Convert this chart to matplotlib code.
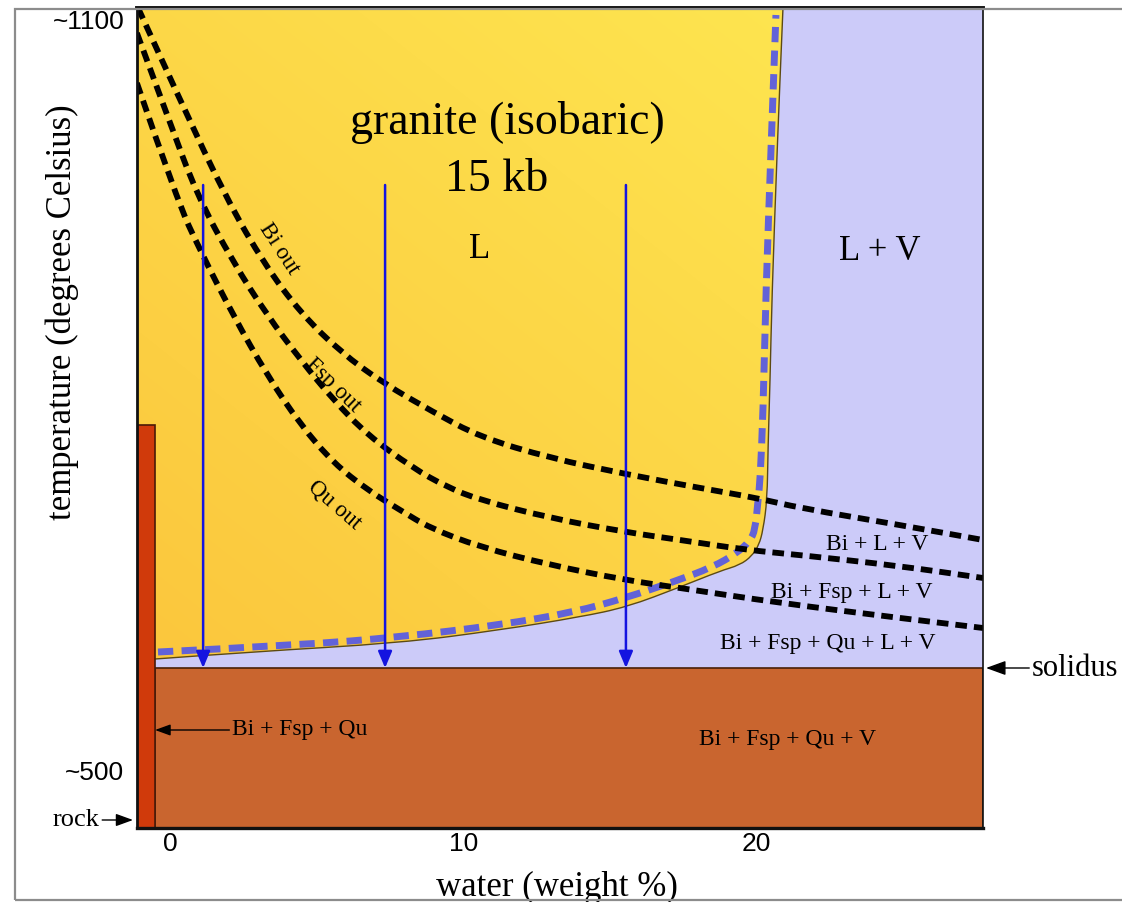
import numpy as np
import matplotlib.pyplot as plt
from matplotlib.patches import Rectangle, Polygon, PathPatch
from matplotlib.path import Path
from matplotlib.colors import to_rgb

plt.rcParams['font.family'] = ['Liberation Serif', 'DejaVu Serif']

# axis ranges (water weight %, temperature in C)
water_lim = (-1.137, 27.737)
temp_lim = (453.6, 1109.6)
solidus_T = 581.6
rock_edge = -0.522
rock_top = 776.0

# liquidus boundary of the L field
liq_w = [-0.52, 2.72, 7.84, 11.25, 13.98, 15.59, 17.40, 18.76, 19.44, 19.85,
         20.09, 20.23, 20.37, 20.40, 20.47, 20.53, 20.71, 20.91]
liq_T = [588.8, 594.4, 601.6, 612.0, 622.4, 630.4, 646.4, 659.2, 664.0, 671.2,
         680.0, 692.0, 716.0, 758.4, 812.0, 876.0, 996.0, 1109.6]

# blue dashed path
path_w = [-0.42, 4.45, 7.84, 11.25, 13.81, 15.52, 17.16, 18.52, 19.34, 19.78,
          19.96, 20.06, 20.13, 20.23, 20.33, 20.50, 20.67]
path_T = [594.4, 600.0, 606.4, 616.0, 626.4, 637.6, 650.4, 662.4, 673.6, 683.2,
          692.0, 716.0, 732.0, 785.6, 884.0, 996.0, 1104.0]

bi_w = [-1.10, 0.33, 1.94, 3.23, 4.45, 5.81, 7.26, 8.97, 10.57, 12.96, 15.52,
        18.08, 20.02, 21.49, 24.90, 27.74]
bi_T = [1109.6, 1036.0, 956.0, 904.0, 865.6, 834.4, 809.6, 786.4, 766.4, 749.6,
        736.8, 725.6, 717.6, 709.6, 696.0, 684.0]

fsp_w = [-1.14, -0.11, 0.91, 2.14, 3.30, 4.45, 5.57, 6.73, 8.28, 9.44, 10.57,
         12.96, 15.52, 17.40, 19.68, 21.49, 24.90, 27.74]
fsp_T = [1089.6, 1024.0, 960.0, 906.4, 864.0, 828.0, 796.0, 768.0, 741.6, 726.4,
         716.0, 701.6, 690.4, 684.0, 676.0, 672.0, 663.2, 653.6]

qu_w = [-1.14, 0.23, 1.01, 2.14, 3.30, 4.45, 5.57, 6.73, 7.84, 8.86, 10.57,
        12.96, 15.52, 17.40, 20.81, 24.90, 27.74]
qu_T = [1049.6, 956.0, 916.0, 864.0, 816.0, 776.0, 745.6, 724.0, 708.0, 693.6,
        678.4, 664.0, 652.0, 645.6, 633.6, 621.6, 613.6]

# cooling paths (vertical arrows)
arrow_w = [1.12, 7.33, 15.55]
arrow_top = 968.0


def smooth(w, T):
    # quadratic bezier through midpoints, read points act as control points
    p = np.column_stack([w, T])
    verts = [p[0]]
    codes = [Path.MOVETO]
    for i in range(1, len(p) - 1):
        verts += [p[i], (p[i] + p[i + 1]) / 2]
        codes += [Path.CURVE3, Path.CURVE3]
    verts.append(p[-1])
    codes.append(Path.LINETO)
    return Path(verts, codes)


fig = plt.figure(figsize=(11.22, 9.02), dpi=100)
ax = fig.add_axes([137/1122, 1-828/902, (983-137)/1122, (828-8)/902])
ax.set_xlim(*water_lim)
ax.set_ylim(*temp_lim)

# outer frame
fig.patches.append(Rectangle((15/1122, 2/902), 1.0, 891/902, transform=fig.transFigure,
                             fill=False, edgecolor='#8c8c8c', lw=1.6))

# fields
ax.add_patch(Rectangle((rock_edge, solidus_T), water_lim[1]-rock_edge, temp_lim[1]-solidus_T,
                       facecolor='#cccbf9', edgecolor='none', zorder=1))

liq_path = smooth(liq_w, liq_T)
liq_pts = liq_path.to_polygons(closed_only=False)[0]
yel = np.vstack([[water_lim[0], temp_lim[1]], liq_pts[::-1],
                 [liq_w[0], liq_T[0]], [water_lim[0], liq_T[0]]])
yel_patch = Polygon(yel, closed=True, facecolor='none', edgecolor='none', transform=ax.transData)
ax.add_patch(yel_patch)
gx, gy = np.meshgrid(np.linspace(0, 1, 200), np.linspace(0, 1, 200))
t = np.clip((gx*0.9 + gy*1.1)/2.0, 0, 1)[..., None]
c0 = np.array(to_rgb('#fbc23a'))
c1 = np.array(to_rgb('#fee952'))
grad = c0*(1-t) + c1*t
im = ax.imshow(grad, extent=[water_lim[0], water_lim[1], temp_lim[0], temp_lim[1]],
               origin='lower', aspect='auto', zorder=2, interpolation='bilinear')
im.set_clip_path(yel_patch)
ax.add_patch(PathPatch(liq_path, facecolor='none', edgecolor='#5c4a12', lw=1.0, zorder=3))

ax.add_patch(Rectangle((rock_edge, temp_lim[0]), water_lim[1]-rock_edge, solidus_T-temp_lim[0],
                       facecolor='#c9652f', edgecolor='#4a2008', lw=1.2, zorder=3))
ax.add_patch(Rectangle((water_lim[0], temp_lim[0]), rock_edge-water_lim[0], rock_top-temp_lim[0],
                       facecolor='#d03a0b', edgecolor='#4a1a08', lw=1.2, zorder=3))

# boundaries
ax.add_patch(PathPatch(smooth(path_w, path_T), facecolor='none', edgecolor='#6262d8',
                       lw=5.0, linestyle=(0, (2.2, 1.2)), capstyle='butt', zorder=4))
for w, T in [(bi_w, bi_T), (fsp_w, fsp_T), (qu_w, qu_T)]:
    ax.add_patch(PathPatch(smooth(w, T), facecolor='none', edgecolor='black',
                           lw=4.2, linestyle=(0, (2.0, 1.2)), capstyle='butt', zorder=5))

for w in arrow_w:
    ax.annotate('', xy=(w, solidus_T), xytext=(w, arrow_top), zorder=6,
                arrowprops=dict(arrowstyle='-|>,head_width=0.42,head_length=1.0',
                                color='#1414e0', lw=1.8, shrinkA=0, shrinkB=0))

# labels
ax.text(11.49, 1018, 'granite (isobaric)', fontsize=33, ha='center', va='center', zorder=7)
ax.text(11.15, 972, '15 kb', fontsize=33, ha='center', va='center', zorder=7)
ax.text(10.56, 916, 'L', fontsize=25, ha='center', va='center', zorder=7)
ax.text(24.22, 915, 'L + V', fontsize=25, ha='center', va='center', zorder=7)
ax.text(3.72, 917, 'Bi out', fontsize=16.5, rotation=-57, ha='center', va='center',
        rotation_mode='anchor', zorder=7)
ax.text(5.55, 808, 'Fsp out', fontsize=16.5, rotation=-44, ha='center', va='center',
        rotation_mode='anchor', zorder=7)
ax.text(5.62, 712, 'Qu out', fontsize=16.5, rotation=-41, ha='center', va='center',
        rotation_mode='anchor', zorder=7)
ax.text(24.12, 680, 'Bi + L + V', fontsize=17, ha='center', va='center', zorder=7)
ax.text(23.26, 641.6, 'Bi + Fsp + L + V', fontsize=17, ha='center', va='center', zorder=7)
ax.text(22.45, 600.8, 'Bi + Fsp + Qu + L + V', fontsize=17, ha='center', va='center', zorder=7)
ax.text(21.08, 524, 'Bi + Fsp + Qu + V', fontsize=17, ha='center', va='center', zorder=7)

small_arrow = dict(arrowstyle='-|>,head_width=0.2,head_length=0.55', color='black',
                   lw=1.0, shrinkA=0, shrinkB=0)
ax.annotate('Bi + Fsp + Qu', xy=(rock_edge, 532), xytext=(2.11, 532), fontsize=17,
            ha='left', va='center', arrowprops=small_arrow, zorder=7)
ax.annotate('solidus', xy=(27.84, solidus_T), xytext=(29.41, solidus_T), fontsize=22,
            ha='left', va='center', arrowprops=small_arrow, annotation_clip=False, zorder=7)
ax.annotate('rock', xy=(-1.273, 460), xytext=(-3.22, 460), fontsize=19,
            ha='center', va='center', arrowprops=small_arrow, annotation_clip=False, zorder=7)

# axes
ax.set_xticks([0, 10, 20])
ax.set_xticklabels(['0', '10', '20'], fontfamily='Liberation Sans', fontsize=19)
ax.set_yticks([500, 1100])
ax.set_yticklabels(['~500', '~1100'], fontfamily='Liberation Sans', fontsize=19)
ax.tick_params(length=0)
ax.tick_params(axis='y', pad=9)
ax.tick_params(axis='x', pad=3)
ax.set_yticks([1100], minor=True)
ax.tick_params(axis='y', which='minor', direction='in', length=24, width=1, color='#7a6a30')

ax.set_xlabel('water (weight %)', fontsize=25)
ax.set_ylabel('temperature (degrees Celsius)', fontsize=25)
ax.xaxis.set_label_coords(0.4965, -0.052)
ax.yaxis.set_label_coords(-0.068, 0.629)

for side, lw in [('left', 2.0), ('top', 2.8), ('bottom', 2.4), ('right', 1.2)]:
    ax.spines[side].set_linewidth(lw)
    ax.spines[side].set_color('#111111')
    ax.spines[side].set_zorder(10)

fig.savefig('out.png', dpi=100)
